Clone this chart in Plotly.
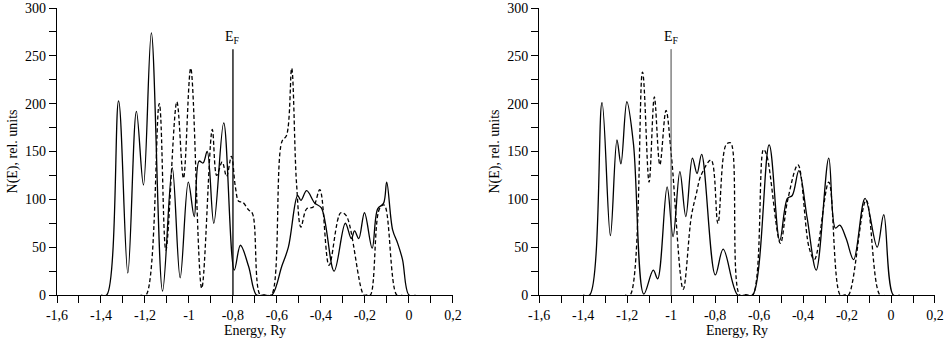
import plotly.graph_objects as go

# ---------------- data ----------------
left_solid_E = [-1.40, -1.374, -1.320, -1.278, -1.239, -1.207, -1.171, -1.120, -1.076, -1.040,
                -1.003, -0.976, -0.954, -0.936, -0.917, -0.887, -0.842, -0.794, -0.766, -0.729,
                -0.693, -0.66, -0.623, -0.578, -0.548, -0.506, -0.491, -0.465, -0.428, -0.398,
                -0.340, -0.289, -0.262, -0.247, -0.228, -0.202, -0.167, -0.142, -0.115, -0.101,
                -0.074, -0.051, -0.029, 0.0, 0.03]
left_solid_N = [0, 0, 203, 23, 192, 115, 274, 4, 133, 18,
                118, 82, 140, 138, 150, 75, 180, 26, 52, 30,
                0, 0, 0, 30, 50, 104, 99, 109, 96, 91,
                25, 75, 59, 67, 59, 86, 49, 90, 96, 118,
                68, 54, 37, 0, 0]

left_dash_E = [-1.22, -1.195, -1.135, -1.105, -1.055, -1.025, -0.992, -0.942, -0.894, -0.874,
               -0.849, -0.829, -0.807, -0.789, -0.774, -0.756, -0.729, -0.711, -0.676, -0.65,
               -0.625, -0.578, -0.556, -0.533, -0.511, -0.491, -0.465, -0.435, -0.405, -0.363,
               -0.310, -0.285, -0.205, -0.19, -0.175, -0.134, -0.112, -0.055, -0.03]
left_dash_N = [0, 0, 200, 47, 202, 122, 237, 7, 173, 125,
               139, 124, 145, 113, 98, 97, 89, 85, 0, 0,
               0, 160, 167, 237, 117, 71, 90, 92, 110, 31,
               86, 83, 0, 0, 0, 90, 94, 0, 0]

right_solid_E = [-1.40, -1.370, -1.314, -1.276, -1.246, -1.228, -1.201, -1.171, -1.124, -1.081,
                 -1.061, -1.018, -0.991, -0.960, -0.933, -0.903, -0.882, -0.861, -0.799, -0.763,
                 -0.697, -0.66, -0.629, -0.554, -0.506, -0.471, -0.449, -0.419, -0.381, -0.340,
                 -0.283, -0.253, -0.233, -0.204, -0.170, -0.118, -0.063, -0.033, 0.010, 0.04]
right_solid_N = [0, 0, 201, 62, 162, 137, 202, 158, 1, 26,
                 17, 113, 61, 129, 82, 143, 127, 147, 21, 48,
                 0, 0, 0, 157, 57, 101, 104, 130, 80, 26,
                 143, 70, 73, 59, 37, 101, 50, 84, 0, 0]

right_dash_E = [-1.21, -1.186, -1.130, -1.100, -1.076, -1.051, -1.023, -0.998, -0.945, -0.908,
                -0.885, -0.864, -0.818, -0.787, -0.750, -0.729, -0.688, -0.66, -0.629, -0.580,
                -0.565, -0.503, -0.471, -0.423, -0.373, -0.348, -0.283, -0.231, -0.21, -0.193,
                -0.113, -0.050, -0.02]
right_dash_N = [0, 0, 233, 118, 207, 136, 193, 144, 6, 82,
                106, 125, 141, 75, 157, 159, 0, 0, 0, 152,
                146, 54, 98, 136, 50, 37, 118, 0, 0, 0,
                99, 0, 0]

fermi_left = -0.8
fermi_right = -1.0
fermi_top = 257

x_tick_vals = [-1.6, -1.5, -1.4, -1.3, -1.2, -1.1, -1.0, -0.9, -0.8, -0.7, -0.6, -0.5,
               -0.4, -0.3, -0.2, -0.1, 0.0, 0.1, 0.2]
x_tick_text = ["-1,6", "", "-1,4", "", "-1,2", "", "-1", "", "-0,8", "", "-0,6", "",
               "-0,4", "", "-0,2", "", "0", "", "0,2"]
y_tick_vals = [0, 25, 50, 75, 100, 125, 150, 175, 200, 225, 250, 275, 300]
y_tick_text = ["0", "", "50", "", "100", "", "150", "", "200", "", "250", "", "300"]

x_title = "Energy, Ry"
y_title = "N(E), rel. units"
fermi_label = "E<sub>F</sub>"

# ---------------- figure ----------------
FONT = "Liberation Serif"
FS = 14
fig = go.Figure()

solid = dict(color="black", width=1.3, shape="spline", smoothing=1.0)
dashed = dict(color="black", width=1.3, shape="spline", smoothing=1.0, dash="4px,2.5px")

fig.add_trace(go.Scatter(x=left_solid_E, y=left_solid_N, mode="lines", line=solid,
                         xaxis="x", yaxis="y", showlegend=False, hoverinfo="skip"))
fig.add_trace(go.Scatter(x=left_dash_E, y=left_dash_N, mode="lines", line=dashed,
                         xaxis="x", yaxis="y", showlegend=False, hoverinfo="skip"))
fig.add_trace(go.Scatter(x=[fermi_left, fermi_left], y=[0, fermi_top], mode="lines",
                         line=dict(color="black", width=1.3), xaxis="x", yaxis="y",
                         showlegend=False, hoverinfo="skip"))

fig.add_trace(go.Scatter(x=right_solid_E, y=right_solid_N, mode="lines", line=solid,
                         xaxis="x2", yaxis="y2", showlegend=False, hoverinfo="skip"))
fig.add_trace(go.Scatter(x=right_dash_E, y=right_dash_N, mode="lines", line=dashed,
                         xaxis="x2", yaxis="y2", showlegend=False, hoverinfo="skip"))
fig.add_trace(go.Scatter(x=[fermi_right, fermi_right], y=[0, fermi_top], mode="lines",
                         line=dict(color="#444", width=1.0), xaxis="x2", yaxis="y2",
                         showlegend=False, hoverinfo="skip"))

def xax(domain, anchor):
    return dict(domain=domain, anchor=anchor, range=[-1.6, 0.2], showline=True,
                linecolor="black", linewidth=1.2, ticks="outside", ticklen=7, tickwidth=1,
                tickcolor="black", tickvals=x_tick_vals, ticktext=x_tick_text,
                showgrid=False, zeroline=False, automargin=False,
                tickfont=dict(family=FONT, size=FS, color="black"),
                title=dict(text=x_title, standoff=2,
                           font=dict(family=FONT, size=FS, color="black")))

def yax(anchor):
    return dict(domain=[0, 1], anchor=anchor, range=[0, 300], showline=True,
                linecolor="black", linewidth=1.2, ticks="outside", ticklen=7, tickwidth=1,
                tickcolor="black", tickvals=y_tick_vals, ticktext=y_tick_text,
                showgrid=False, zeroline=False, automargin=False,
                tickfont=dict(family=FONT, size=FS, color="black"),
                title=dict(text=y_title, standoff=4,
                           font=dict(family=FONT, size=FS, color="black")))

fig.update_layout(
    width=947, height=341,
    margin=dict(l=57, r=12, t=8, b=46),
    paper_bgcolor="white", plot_bgcolor="white",
    font=dict(family=FONT, size=FS, color="black"),
    hovermode=False,
    xaxis=xax([0, 0.4509], "y"),
    yaxis=yax("x"),
    xaxis2=xax([0.5491, 1], "y2"),
    yaxis2=yax("x2"),
    annotations=[
        dict(x=fermi_left, y=fermi_top, xref="x", yref="y", text=fermi_label,
             showarrow=False, yanchor="bottom", yshift=1,
             font=dict(family=FONT, size=FS, color="black")),
        dict(x=fermi_right, y=fermi_top, xref="x2", yref="y2", text=fermi_label,
             showarrow=False, yanchor="bottom", yshift=1,
             font=dict(family=FONT, size=FS, color="black")),
    ],
)

fig.write_html("out.html", config={"displayModeBar": False},
               post_script="document.body.style.margin='0';document.body.style.overflow='hidden';")
